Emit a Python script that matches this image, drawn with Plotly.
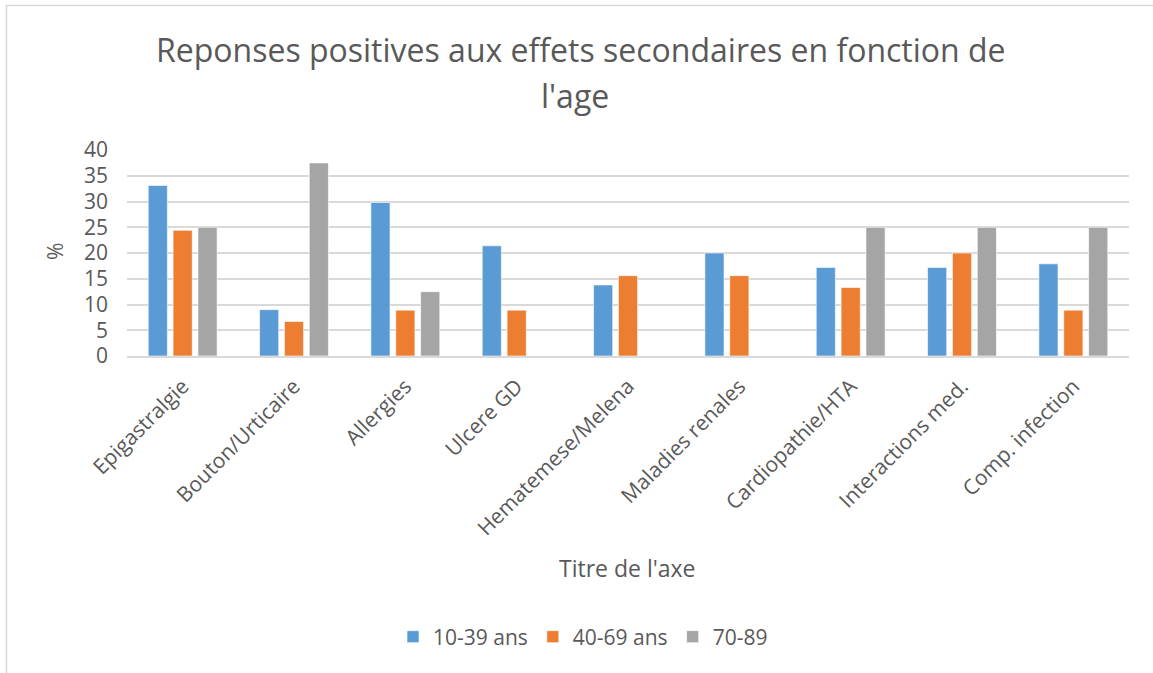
import plotly.graph_objects as go

categories = ["Epigastralgie", "Bouton/Urticaire", "Allergies", "Ulcere GD",
              "Hematemese/Melena", "Maladies renales", "Cardiopathie/HTA",
              "Interactions med.", "Comp. infection"]
s1_name = "10-39 ans"
s1 = [33.1, 9.0, 29.8, 21.4, 13.8, 20.0, 17.2, 17.2, 17.9]
s2_name = "40-69 ans"
s2 = [24.4, 6.7, 8.9, 8.9, 15.6, 15.6, 13.3, 20.0, 8.9]
s3_name = "70-89"
s3 = [25.0, 37.5, 12.5, 0, 0, 0, 25.0, 25.0, 25.0]
y_ticks = [0, 5, 10, 15, 20, 25, 30, 35, 40]

FONT = "'Open Sans', sans-serif"
TXT = "#595959"

fig = go.Figure()
for name, vals, col in [(s1_name, s1, "#5B9BD5"), (s2_name, s2, "#ED7D31"), (s3_name, s3, "#A5A5A5")]:
    fig.add_trace(go.Bar(x=categories, y=vals, name=name,
                         marker=dict(color=col, line=dict(color="rgba(255,255,255,0.6)", width=1))))

W, H = 1153, 673
L, R, T, B = 127, 24, 150, 317
pw = W - L - R
ph = H - T - B

def px(x):
    return (x - L) / pw

def py(y):
    return (H - B - y) / ph

fig.update_layout(
    width=W, height=H,
    margin=dict(l=L, r=R, t=T, b=B, autoexpand=False),
    paper_bgcolor="white", plot_bgcolor="white",
    barmode="group", bargap=0.33, bargroupgap=0.23,
    font=dict(family=FONT, color=TXT, size=21),
    showlegend=True,
    legend=dict(orientation="h", x=px(583), xanchor="center", y=py(637), yanchor="middle",
                font=dict(size=21, color=TXT), traceorder="normal"),
    xaxis=dict(tickangle=-45, tickfont=dict(size=21, color=TXT), showgrid=False,
               showline=True, linecolor="#D9D9D9", linewidth=1.5, automargin=False,
               ticklabelstandoff=8),
    yaxis=dict(range=[0, 40], tickvals=y_ticks, ticktext=[str(v) for v in y_ticks],
               tickfont=dict(size=21, color=TXT), showgrid=True, gridcolor="#D9D9D9",
               gridwidth=1.5, zeroline=False, showline=False, automargin=False,
               ticklabelstandoff=18),
    annotations=[
        dict(text="Reponses positives aux effets secondaires en fonction de", x=px(581), y=py(49),
             xref="paper", yref="paper", showarrow=False, font=dict(size=32, color=TXT),
             xanchor="center", yanchor="middle"),
        dict(text="l'age", x=px(575), y=py(96), xref="paper", yref="paper", showarrow=False,
             font=dict(size=32, color=TXT), xanchor="center", yanchor="middle"),
        dict(text="Titre de l'axe", x=px(627), y=py(568), xref="paper", yref="paper",
             showarrow=False, font=dict(size=23, color=TXT), xanchor="center", yanchor="middle"),
        dict(text="%", x=px(55), y=py(252), xref="paper", yref="paper", showarrow=False,
             textangle=-90, font=dict(size=21, color=TXT), xanchor="center", yanchor="middle"),
    ],
    shapes=[
        dict(type="rect", xref="paper", yref="paper", x0=px(6.5), y0=py(700), x1=px(1180), y1=py(5.5),
             line=dict(color="#D9D9D9", width=1.5), fillcolor="rgba(0,0,0,0)", layer="below"),
    ],
)

fig.write_html("out.html", config={"displayModeBar": False},
               post_script="document.body.style.margin='0';document.body.style.padding='0';")
